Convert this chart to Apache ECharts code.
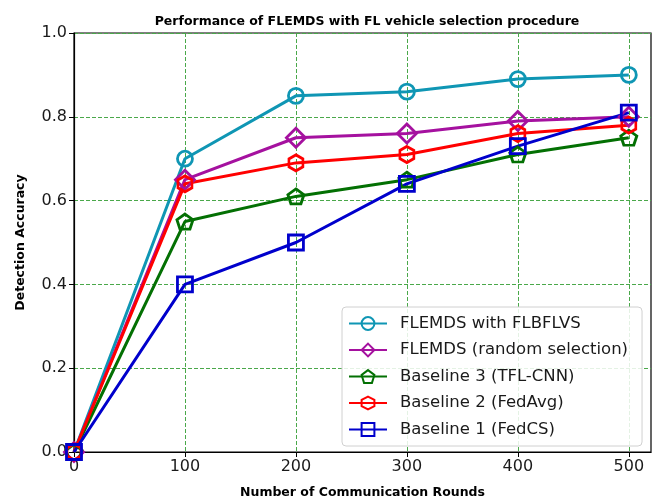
<!DOCTYPE html>
<html>
<head>
<meta charset="utf-8">
<script src="https://cdn.jsdelivr.net/npm/echarts@6/dist/echarts.min.js"></script>
<style>
html,body{margin:0;padding:0;background:#fff;}
#chart{width:662px;height:504px;}
</style>
</head>
<body>
<div id="chart"></div>
<script>
// communication rounds (x) and accuracy per method
var rounds = [0, 100, 200, 300, 400, 500];
var xTicks = [0, 100, 200, 300, 400, 500];
var flbflvs = [0.0, 0.70, 0.85, 0.86, 0.89, 0.90];
var randomSel = [0.0, 0.65, 0.75, 0.76, 0.79, 0.80];
var tflCnn = [0.0, 0.55, 0.61, 0.65, 0.71, 0.75];
var fedAvg = [0.0, 0.64, 0.69, 0.71, 0.76, 0.78];
var fedCs = [0.0, 0.40, 0.50, 0.64, 0.73, 0.81];

var names = ['FLEMDS with FLBFLVS', 'FLEMDS (random selection)', 'Baseline 3 (TFL-CNN)', 'Baseline 2 (FedAvg)', 'Baseline 1 (FedCS)'];

var pentagon = 'path://M0,-1 L0.951,-0.309 L0.588,0.809 L-0.588,0.809 L-0.951,-0.309 Z';
var hexagon = 'path://M0,-1 L0.866,-0.5 L0.866,0.5 L0,1 L-0.866,0.5 L-0.866,-0.5 Z';

function pairs(ys){
    var out = [];
    for (var i = 0; i < rounds.length; i++) {
        out.push([rounds[i], ys[i]]);
    }
    return out;
}

function mkSeries(name, ys, color, symbol, size){
    return {
        name: name,
        type: 'line',
        data: pairs(ys),
        symbol: symbol,
        symbolSize: size,
        showAllSymbol: true,
        lineStyle: {color: color, width: 3},
        itemStyle: {color: 'rgba(255,255,255,0)', borderColor: color, borderWidth: 2.8},
        emphasis: {disabled: true},
        z: 3
    };
}

var myChart = echarts.init(document.getElementById('chart'));
var font = 'DejaVu Sans';
var gridColor = '#4aa84a';

var option = {
    animation: false,
    color: ['#0f96b4', '#a5119f', '#037003', '#ff0000', '#0000cc'],
    title: {
        text: 'Performance of FLEMDS with FL vehicle selection procedure',
        left: 362,
        top: 10,
        textAlign: 'center',
        textStyle: {fontFamily: font, fontSize: 12.5, fontWeight: 'bold', color: '#000'}
    },
    grid: {
        left: 74,
        right: 11,
        top: 33,
        bottom: 52,
        show: true,
        borderColor: '#000',
        borderWidth: 1.2,
        backgroundColor: 'rgba(0,0,0,0)'
    },
    legend: {
        orient: 'vertical',
        left: 342,
        top: 307,
        padding: [8, 14, 8, 6],
        itemGap: 9.5,
        itemWidth: 38,
        itemHeight: 16,
        borderColor: '#d0d0d0',
        borderWidth: 1,
        borderRadius: 4,
        backgroundColor: 'rgba(255,255,255,0.85)',
        data: names,
        textStyle: {fontFamily: font, fontSize: 16.5, color: '#1a1a1a', padding: [0, 0, 0, 8]}
    },
    xAxis: {
        type: 'value',
        min: 0,
        max: 520,
        interval: 100,
        name: 'Number of Communication Rounds',
        nameLocation: 'middle',
        nameGap: 34,
        nameTextStyle: {fontFamily: font, fontSize: 12.5, fontWeight: 'bold', color: '#000'},
        axisLine: {onZero: false, lineStyle: {color: '#000', width: 1.2}},
        axisTick: {inside: false, length: 5, lineStyle: {color: '#000', width: 1}, customValues: xTicks},
        axisLabel: {fontFamily: font, fontSize: 16, color: '#1a1a1a', margin: 7, customValues: xTicks},
        splitLine: {show: true, lineStyle: {color: gridColor, width: 1, type: [4, 2]}}
    },
    yAxis: {
        type: 'value',
        min: 0,
        max: 1,
        interval: 0.2,
        name: 'Detection Accuracy',
        nameLocation: 'middle',
        nameGap: 47,
        nameTextStyle: {fontFamily: font, fontSize: 12.5, fontWeight: 'bold', color: '#000'},
        axisLine: {show: true, lineStyle: {color: '#000', width: 1.2}},
        axisTick: {show: true, inside: false, length: 5, lineStyle: {color: '#000', width: 1}},
        axisLabel: {fontFamily: font, fontSize: 16, color: '#1a1a1a', margin: 7,
            formatter: function(v){ return v.toFixed(1); }},
        splitLine: {show: true, lineStyle: {color: gridColor, width: 1, type: [4, 2]}}
    },
    series: [
        mkSeries(names[0], flbflvs, '#0f96b4', 'circle', 15),
        mkSeries(names[1], randomSel, '#a5119f', 'diamond', [19, 19]),
        mkSeries(names[2], tflCnn, '#037003', pentagon, [16, 15]),
        mkSeries(names[3], fedAvg, '#ff0000', hexagon, [14, 16]),
        mkSeries(names[4], fedCs, '#0000cc', 'rect', 15)
    ]
};

myChart.setOption(option);
</script>
</body>
</html>
